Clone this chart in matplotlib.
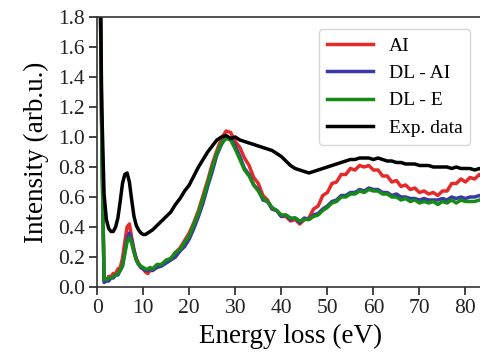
import matplotlib.pyplot as plt

plt.rcParams['font.family'] = ['Liberation Serif', 'DejaVu Serif']

# energy grid (eV)
energy = [0.5, 1.0, 1.5, 2.0, 2.5, 3.0, 3.5, 4.0, 4.5, 5.0, 5.5, 6.0, 6.5, 7.0, 7.5, 8.0,
          8.5, 9.0, 9.5, 10.0, 10.5, 11.0, 11.5, 12.0,
          13, 14, 15, 16, 17, 18, 19, 20, 21, 22, 23, 24, 25, 26, 27, 28, 29, 30,
          31, 32, 33, 34, 35, 36, 37, 38, 39, 40, 41, 42, 43, 44, 45, 46, 47, 48,
          49, 50, 51, 52, 53, 54, 55, 56, 57, 58, 59, 60, 61, 62, 63, 64, 65, 66,
          67, 68, 69, 70, 71, 72, 73, 74, 75, 76, 77, 78, 79, 80, 81, 82, 83, 84]

ai = [2.5, 1.0, 0.05, 0.05, 0.07, 0.07, 0.09, 0.09, 0.12, 0.13, 0.19, 0.30, 0.40, 0.42, 0.33, 0.25,
      0.19, 0.16, 0.13, 0.12, 0.10, 0.09, 0.11, 0.11,
      0.14, 0.15, 0.17, 0.19, 0.23, 0.26, 0.31, 0.36, 0.43, 0.51, 0.61, 0.71, 0.82, 0.91, 0.99, 1.04, 1.03, 0.97,
      0.93, 0.86, 0.81, 0.73, 0.69, 0.61, 0.58, 0.52, 0.51, 0.47, 0.47, 0.44, 0.45, 0.42, 0.45, 0.46, 0.52, 0.54,
      0.61, 0.63, 0.69, 0.70, 0.75, 0.75, 0.79, 0.78, 0.81, 0.80, 0.81, 0.78, 0.78, 0.74, 0.74, 0.70, 0.71, 0.67,
      0.68, 0.65, 0.66, 0.63, 0.64, 0.62, 0.63, 0.61, 0.64, 0.64, 0.69, 0.69, 0.72, 0.70, 0.73, 0.72, 0.75, 0.74]

dl_ai = [2.5, 1.0, 0.03, 0.04, 0.04, 0.06, 0.06, 0.08, 0.08, 0.11, 0.14, 0.23, 0.32, 0.36, 0.31, 0.24,
         0.18, 0.15, 0.13, 0.12, 0.11, 0.11, 0.12, 0.11,
         0.13, 0.14, 0.16, 0.18, 0.20, 0.24, 0.27, 0.32, 0.39, 0.47, 0.56, 0.67, 0.77, 0.88, 0.95, 1.00, 0.99, 0.94,
         0.87, 0.79, 0.75, 0.68, 0.65, 0.58, 0.57, 0.52, 0.51, 0.47, 0.48, 0.45, 0.46, 0.43, 0.46, 0.45, 0.48, 0.49,
         0.52, 0.54, 0.57, 0.58, 0.61, 0.61, 0.63, 0.63, 0.65, 0.64, 0.66, 0.65, 0.65, 0.63, 0.63, 0.61, 0.62, 0.60,
         0.60, 0.59, 0.59, 0.58, 0.59, 0.58, 0.58, 0.58, 0.59, 0.58, 0.60, 0.59, 0.60, 0.59, 0.60, 0.60, 0.61, 0.60]

dl_e = [2.5, 1.0, 0.05, 0.05, 0.06, 0.06, 0.07, 0.08, 0.09, 0.11, 0.14, 0.22, 0.30, 0.33, 0.29, 0.23,
        0.18, 0.15, 0.14, 0.13, 0.12, 0.12, 0.13, 0.12,
        0.15, 0.15, 0.18, 0.19, 0.23, 0.25, 0.30, 0.34, 0.42, 0.49, 0.59, 0.69, 0.80, 0.89, 0.96, 0.99, 0.98, 0.92,
        0.85, 0.78, 0.74, 0.68, 0.64, 0.59, 0.57, 0.53, 0.51, 0.48, 0.48, 0.46, 0.46, 0.44, 0.45, 0.45, 0.47, 0.48,
        0.51, 0.53, 0.56, 0.57, 0.60, 0.60, 0.62, 0.62, 0.64, 0.63, 0.65, 0.64, 0.64, 0.62, 0.62, 0.60, 0.60, 0.58,
        0.59, 0.57, 0.58, 0.56, 0.57, 0.56, 0.57, 0.55, 0.57, 0.56, 0.58, 0.56, 0.58, 0.57, 0.57, 0.57, 0.58, 0.58]

exp_data = [2.5, 1.2, 0.62, 0.45, 0.39, 0.37, 0.37, 0.40, 0.46, 0.57, 0.69, 0.75, 0.76, 0.70, 0.58, 0.47,
            0.41, 0.38, 0.36, 0.35, 0.35, 0.36, 0.37, 0.38,
            0.41, 0.44, 0.47, 0.50, 0.55, 0.59, 0.64, 0.68, 0.74, 0.80, 0.85, 0.90, 0.94, 0.98, 1.00, 1.01, 0.99, 1.00,
            0.98, 0.97, 0.96, 0.95, 0.94, 0.93, 0.92, 0.91, 0.89, 0.87, 0.84, 0.81, 0.79, 0.78, 0.77, 0.76, 0.77, 0.78,
            0.79, 0.80, 0.81, 0.82, 0.83, 0.84, 0.85, 0.85, 0.86, 0.86, 0.86, 0.85, 0.86, 0.85, 0.84, 0.84, 0.83, 0.83,
            0.82, 0.82, 0.82, 0.81, 0.81, 0.81, 0.80, 0.80, 0.80, 0.80, 0.79, 0.80, 0.79, 0.79, 0.79, 0.78, 0.79, 0.78]

fig = plt.figure(figsize=(4.81, 3.59), dpi=100)
ax = fig.add_axes([0.202, 0.2006, 0.804, 0.752])

ax.plot(energy, ai, color='#e52a2a', lw=2.5, label='AI')
ax.plot(energy, dl_ai, color='#3838a8', lw=2.5, label='DL - AI')
ax.plot(energy, dl_e, color='#168a16', lw=2.5, label='DL - E')
ax.plot(energy, exp_data, color='black', lw=2.5, label='Exp. data')

ax.set_xlim(0, 84)
ax.set_ylim(0, 1.8)
ax.set_xticks([0, 10, 20, 30, 40, 50, 60, 70, 80])
ax.set_yticks([0.0, 0.2, 0.4, 0.6, 0.8, 1.0, 1.2, 1.4, 1.6, 1.8])
ax.set_yticklabels(['0.0', '0.2', '0.4', '0.6', '0.8', '1.0', '1.2', '1.4', '1.6', '1.8'])
ax.tick_params(direction='out', length=6, width=1.2, labelsize=15.5, colors='#222222', pad=3)
ax.spines['right'].set_visible(False)
for s in ['left', 'bottom', 'top']:
    ax.spines[s].set_linewidth(1.2)
    ax.spines[s].set_color('#333333')

ax.set_xlabel('Energy loss (eV)', fontsize=19.5, labelpad=4)
ax.set_ylabel('Intensity (arb.u.)', fontsize=19.5, labelpad=6)
ax.legend(loc='upper right', fontsize=14, handlelength=2.4, borderpad=0.4,
          labelspacing=0.5, bbox_to_anchor=(0.99, 0.99))

fig.savefig('out.png', dpi=100)
